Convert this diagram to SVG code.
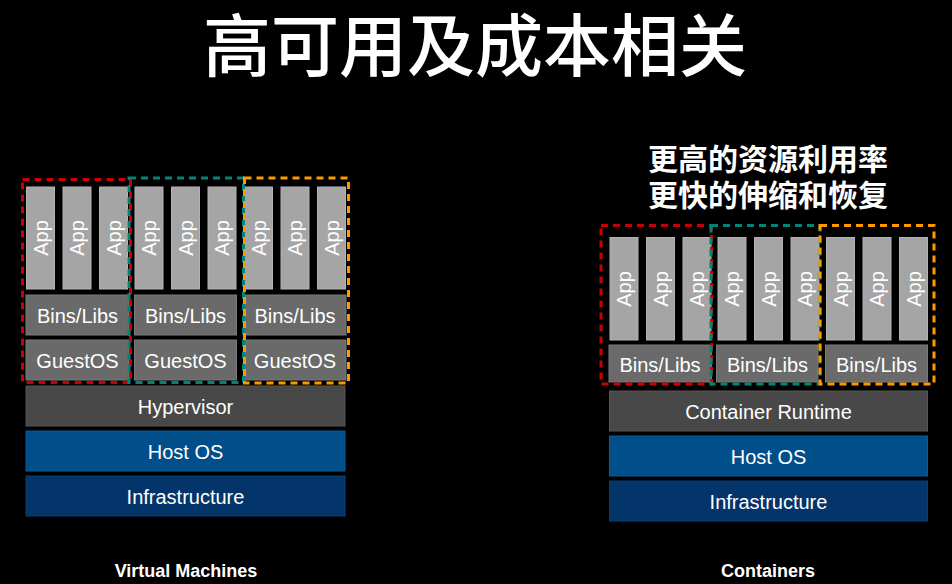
<svg xmlns="http://www.w3.org/2000/svg" width="952" height="584" viewBox="0 0 952 584">
<style>
text{font-family:"Liberation Sans",Arial,"Noto Sans CJK SC",sans-serif;fill:#fff;text-anchor:middle;dominant-baseline:central}
.app{fill:#a5a5a5;stroke:#b4b4b4;stroke-width:1}
.bins{fill:#6a6a6a;stroke:#7a7a7a;stroke-width:1}
.hyp{fill:#484848;stroke:#565656;stroke-width:1}
.host{fill:#004f8a;stroke:#0a5a95;stroke-width:1}
.infra{fill:#03346a;stroke:#0b3f77;stroke-width:1}
.t{font-size:20px}
.cjk{font-family:"Noto Sans CJK SC","Noto Sans CJK TC",sans-serif;dominant-baseline:auto}
.lbl{font-size:18px;font-weight:bold;dominant-baseline:auto}
.dash{fill:none;stroke-width:3;stroke-dasharray:7 5}
.red{stroke:#cc0000}.teal{stroke:#00857a}.orange{stroke:#ff9900}
</style>
<rect width="952" height="584" fill="#000"/>
<text class="cjk" x="475" y="71" font-size="68" font-weight="500">高可用及成本相关</text>
<text class="cjk" font-size="30" font-weight="bold"><tspan x="768" y="170">更高的资源利用率</tspan><tspan x="768" y="205.5">更快的伸缩和恢复</tspan></text>

<g id="vm-apps">
<g id="vm1-app1"><rect class="app" x="26.5" y="187" width="28" height="102"/><text class="t" transform="translate(40.5 238) rotate(-90)">App</text></g>
<g id="vm1-app2"><rect class="app" x="63" y="187" width="28" height="102"/><text class="t" transform="translate(77 238) rotate(-90)">App</text></g>
<g id="vm1-app3"><rect class="app" x="99.5" y="187" width="28" height="102"/><text class="t" transform="translate(113.5 238) rotate(-90)">App</text></g>
<g id="vm2-app1"><rect class="app" x="135" y="187" width="28" height="102"/><text class="t" transform="translate(149 238) rotate(-90)">App</text></g>
<g id="vm2-app2"><rect class="app" x="171.5" y="187" width="28" height="102"/><text class="t" transform="translate(185.5 238) rotate(-90)">App</text></g>
<g id="vm2-app3"><rect class="app" x="208" y="187" width="28" height="102"/><text class="t" transform="translate(222 238) rotate(-90)">App</text></g>
<g id="vm3-app1"><rect class="app" x="244.5" y="187" width="28" height="102"/><text class="t" transform="translate(258.5 238) rotate(-90)">App</text></g>
<g id="vm3-app2"><rect class="app" x="281" y="187" width="28" height="102"/><text class="t" transform="translate(295 238) rotate(-90)">App</text></g>
<g id="vm3-app3"><rect class="app" x="317.5" y="187" width="28" height="102"/><text class="t" transform="translate(331.5 238) rotate(-90)">App</text></g>
</g>
<g id="vm1-bins"><rect class="bins" x="26" y="295" width="103" height="40"/><text class="t" x="77.5" y="316">Bins/Libs</text></g>
<g id="vm2-bins"><rect class="bins" x="134.5" y="295" width="102" height="40"/><text class="t" x="185.5" y="316">Bins/Libs</text></g>
<g id="vm3-bins"><rect class="bins" x="244" y="295" width="102" height="40"/><text class="t" x="295" y="316">Bins/Libs</text></g>
<g id="vm1-guest"><rect class="bins" x="26" y="340" width="103" height="40"/><text class="t" x="77.5" y="361">GuestOS</text></g>
<g id="vm2-guest"><rect class="bins" x="134.5" y="340" width="102" height="40"/><text class="t" x="185.5" y="361">GuestOS</text></g>
<g id="vm3-guest"><rect class="bins" x="244" y="340" width="102" height="40"/><text class="t" x="295" y="361">GuestOS</text></g>
<g id="hypervisor"><rect class="hyp" x="26" y="386" width="319" height="40"/><text class="t" x="185.5" y="407">Hypervisor</text></g>
<g id="vm-hostos"><rect class="host" x="26" y="431" width="319" height="40"/><text class="t" x="185.5" y="452">Host OS</text></g>
<g id="vm-infra"><rect class="infra" x="26" y="476" width="319" height="40"/><text class="t" x="185.5" y="497">Infrastructure</text></g>
<g id="vm-boxes">
<rect class="dash red" x="22.5" y="179.5" width="108" height="203"/>
<rect class="dash teal" x="129" y="178" width="114.5" height="204.5"/>
<rect class="dash orange" x="244.5" y="178" width="104" height="205"/>
</g>
<text class="lbl" x="186" y="577">Virtual Machines</text>

<g id="ct-apps">
<g id="c1-app1"><rect class="app" x="610" y="237.5" width="28" height="102.5"/><text class="t" transform="translate(624 289) rotate(-90)">App</text></g>
<g id="c1-app2"><rect class="app" x="646.5" y="237.5" width="28" height="102.5"/><text class="t" transform="translate(660.5 289) rotate(-90)">App</text></g>
<g id="c1-app3"><rect class="app" x="683" y="237.5" width="28" height="102.5"/><text class="t" transform="translate(697 289) rotate(-90)">App</text></g>
<g id="c2-app1"><rect class="app" x="718" y="237.5" width="28" height="102.5"/><text class="t" transform="translate(732 289) rotate(-90)">App</text></g>
<g id="c2-app2"><rect class="app" x="754.5" y="237.5" width="28" height="102.5"/><text class="t" transform="translate(768.5 289) rotate(-90)">App</text></g>
<g id="c2-app3"><rect class="app" x="791" y="237.5" width="28" height="102.5"/><text class="t" transform="translate(805 289) rotate(-90)">App</text></g>
<g id="c3-app1"><rect class="app" x="826.5" y="237.5" width="28" height="102.5"/><text class="t" transform="translate(840.5 289) rotate(-90)">App</text></g>
<g id="c3-app2"><rect class="app" x="863" y="237.5" width="28" height="102.5"/><text class="t" transform="translate(877 289) rotate(-90)">App</text></g>
<g id="c3-app3"><rect class="app" x="899.5" y="237.5" width="28" height="102.5"/><text class="t" transform="translate(913.5 289) rotate(-90)">App</text></g>
</g>
<g id="c1-bins"><rect class="bins" x="609" y="345" width="102.5" height="37"/><text class="t" x="660" y="364.5">Bins/Libs</text></g>
<g id="c2-bins"><rect class="bins" x="716.5" y="345" width="101.5" height="37"/><text class="t" x="767.5" y="364.5">Bins/Libs</text></g>
<g id="c3-bins"><rect class="bins" x="825.5" y="345" width="102" height="37"/><text class="t" x="876.5" y="364.5">Bins/Libs</text></g>
<g id="runtime"><rect class="hyp" x="609.5" y="391" width="318" height="40"/><text class="t" x="768.5" y="412">Container Runtime</text></g>
<g id="ct-hostos"><rect class="host" x="609.5" y="436" width="318" height="40"/><text class="t" x="768.5" y="457">Host OS</text></g>
<g id="ct-infra"><rect class="infra" x="609.5" y="481" width="318" height="40"/><text class="t" x="768.5" y="502">Infrastructure</text></g>
<g id="ct-boxes">
<rect class="dash red" x="601" y="225.5" width="110.5" height="158.5"/>
<rect class="dash teal" x="711" y="225.5" width="109" height="158.5"/>
<rect class="dash orange" x="820" y="225.5" width="114" height="158.5"/>
</g>
<text class="lbl" x="768" y="577">Containers</text>
<g id="connectors"/>
</svg>
